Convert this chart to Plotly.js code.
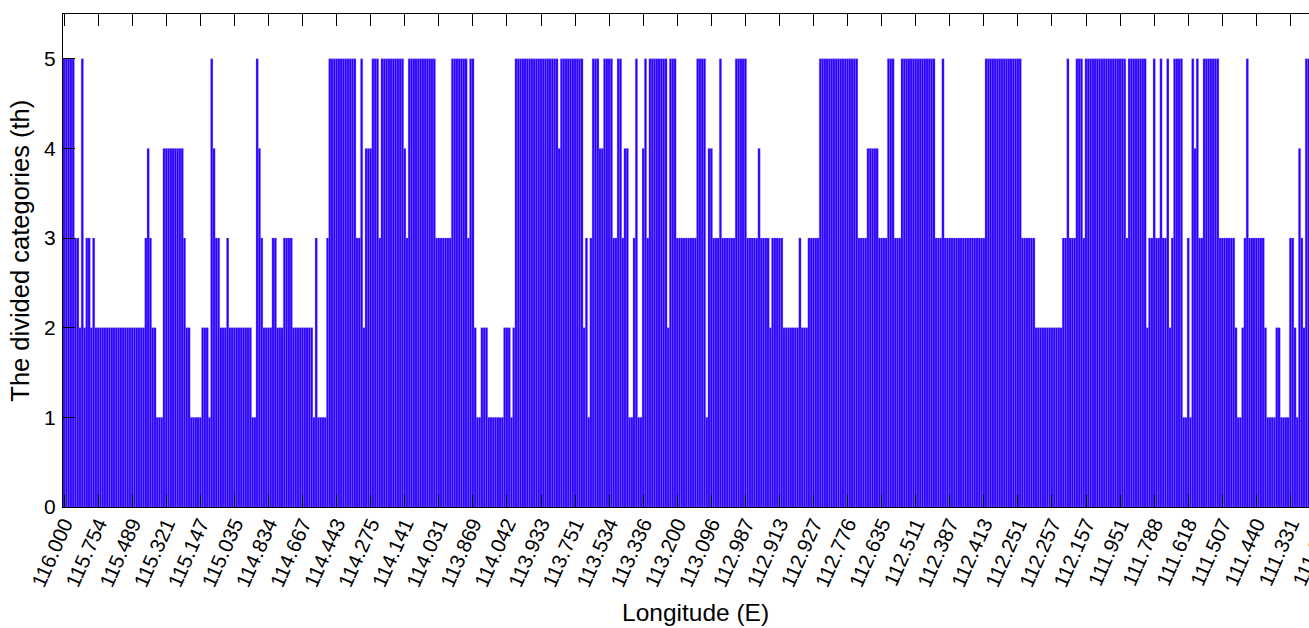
<!DOCTYPE html>
<html><head><meta charset="utf-8">
<script src="https://cdn.plot.ly/plotly-3.0.1.min.js"></script>
<style>html,body{margin:0;padding:0;overflow:hidden;background:#fff;width:1309px;height:628px}</style>
</head><body><div id="chart" style="width:1330px;height:628px"></div>
<script>
// Divided category of each sample along the track (one bar per sample)
const categoryValues = [
5,5,5,5,5,3,3,2,5,2,3,3,2,3,
2,2,2,2,2,2,2,2,2,2,2,2,2,2,2,2,2,2,2,2,2,2,
3,4,3,2,2,1,1,1,
4,4,4,4,4,4,4,4,4,
3,2,2,1,1,1,1,1,2,2,2,1,5,4,3,3,2,2,2,3,
2,2,2,2,2,2,2,2,2,2,
1,1,5,4,3,2,2,2,2,3,3,2,2,2,3,3,3,3,
2,2,2,2,2,2,2,2,2,
1,3,1,1,1,1,3,
5,5,5,5,5,5,5,5,5,5,5,5,
3,3,5,2,4,4,4,5,5,5,3,
5,5,5,5,5,5,5,5,5,5,
4,3,
5,5,5,5,5,5,5,5,5,5,5,5,
3,3,3,3,3,3,3,
5,5,5,5,5,5,5,
3,5,5,2,1,1,2,2,2,
1,1,1,1,1,1,1,
2,2,2,1,2,
5,5,5,5,5,5,5,5,5,5,5,5,5,5,5,5,5,5,5,
4,
5,5,5,5,5,5,5,5,5,5,
2,3,1,3,5,5,5,4,4,5,5,5,5,3,3,5,5,3,4,4,1,1,3,5,1,1,4,5,3,
5,5,5,5,5,5,5,5,
2,5,5,5,
3,3,3,3,3,3,
3,3,3,5,5,5,5,1,4,4,3,3,3,5,3,3,3,3,3,3,5,5,5,5,5,3,3,3,3,3,4,3,3,3,3,2,
3,3,3,3,3,2,2,2,2,2,2,2,3,2,2,2,3,3,3,3,3,
5,5,5,5,5,5,5,5,5,5,5,5,5,5,5,5,5,
3,3,3,3,4,4,4,4,4,3,3,3,3,5,5,5,3,3,3,
5,5,5,5,5,5,5,5,5,5,5,5,5,5,5,
3,3,3,5,3,3,3,3,3,3,3,3,3,3,3,3,3,3,3,3,3,3,
5,5,5,5,5,5,5,5,5,5,5,5,5,5,5,5,
3,3,3,3,3,3,2,2,2,2,2,2,2,2,2,2,2,2,
3,3,5,3,3,3,5,5,5,3,5,5,5,5,5,5,5,
5,5,5,5,5,5,5,5,5,5,5,3,5,5,5,5,5,5,5,5,2,3,3,5,3,3,5,3,3,5,2,3,5,5,5,5,
1,1,3,1,5,4,5,3,3,5,5,5,5,5,5,5,3,3,3,3,3,3,3,2,1,1,2,3,5,
3,3,3,3,3,3,3,2,1,1,1,1,2,2,1,1,1,1,3,3,2,1,4,3,2,5,5
];

// Longitude labels shown under every 15th sample
const longitudeLabels = [
"116.000","115.754","115.489","115.321","115.147","115.035","114.834","114.667",
"114.443","114.275","114.141","114.031","113.869","114.042","113.933","113.751",
"113.534","113.336","113.200","113.096","112.987","112.913","112.927","112.776",
"112.635","112.511","112.387","112.413","112.251","112.257","112.157","111.951",
"111.788","111.618","111.507","111.440","111.331","111.235"
];
const yTickValues = [0,1,2,3,4,5];

const LABEL_STEP = 15;
const sampleIndex = categoryValues.map((v, i) => i);
const labelPositions = longitudeLabels.map((t, k) => k * LABEL_STEP);

const font = 'Liberation Sans, Arial, Helvetica, sans-serif';

const trace = {
  type: 'bar',
  x: sampleIndex,
  y: categoryValues,
  marker: {color: '#2800ff', line: {color: '#8a78ff', width: 0.3}},
  hoverinfo: 'x+y'
};

const layout = {
  width: 1330, height: 628,
  margin: {l: 63, r: 3, t: 14, b: 121},
  paper_bgcolor: '#fff', plot_bgcolor: '#fff',
  showlegend: false,
  bargap: 0,
  xaxis: {
    range: [-0.5, 556.1],
    tickmode: 'array', tickvals: labelPositions, ticktext: longitudeLabels,
    tickangle: -66, ticklabeloverflow: 'allow', ticklabelstandoff: -4,
    ticks: 'inside', ticklen: 12, tickwidth: 1, tickcolor: '#000',
    showline: true, linecolor: '#000', linewidth: 1, mirror: 'ticks',
    showgrid: false, zeroline: false,
    tickfont: {family: font, size: 20.5, color: '#000'}
  },
  yaxis: {
    range: [0, 5.5],
    tickmode: 'array', tickvals: yTickValues, ticktext: yTickValues.map(String),
    ticks: 'inside', ticklen: 12, tickwidth: 1, tickcolor: '#000',
    showline: true, linecolor: '#000', linewidth: 1, mirror: 'ticks',
    showgrid: false, zeroline: false, ticklabelstandoff: 2,
    tickfont: {family: font, size: 21, color: '#000'}
  },
  annotations: [
    {text: 'Longitude (E)', xref: 'paper', yref: 'paper', x: 0.5, y: -0.214,
     xanchor: 'center', yanchor: 'middle', showarrow: false,
     font: {family: font, size: 24.5, color: '#000'}},
    {text: 'The divided categories (th)', xref: 'paper', yref: 'paper', x: -0.034, y: 0.52,
     xanchor: 'center', yanchor: 'middle', textangle: -90, showarrow: false,
     font: {family: font, size: 25.5, color: '#000'}}
  ]
};

Plotly.newPlot('chart', [trace], layout, {displayModeBar: false, staticPlot: true});
</script>
</body></html>
